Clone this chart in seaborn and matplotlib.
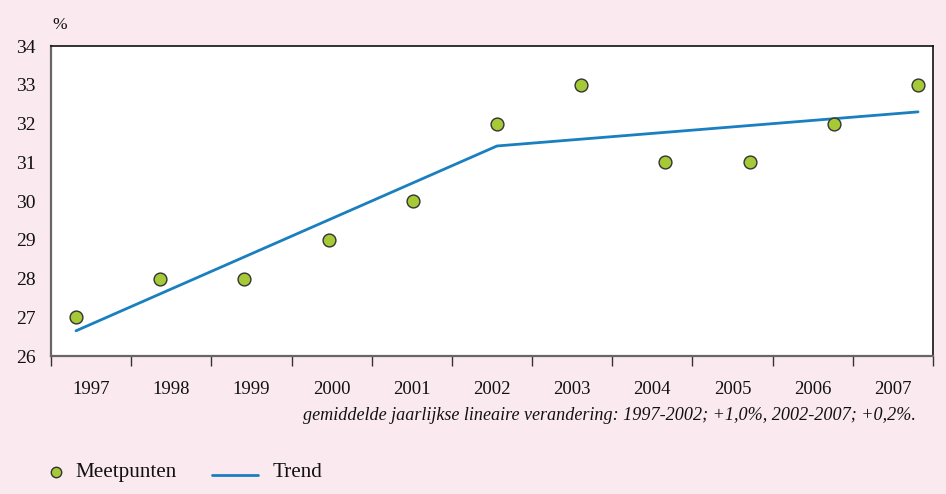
import matplotlib
matplotlib.use("Agg")
import matplotlib.pyplot as plt
import seaborn as sns
import numpy as np
import pandas as pd
from matplotlib.lines import Line2D

years = [1997, 1998, 1999, 2000, 2001, 2002, 2003, 2004, 2005, 2006, 2007]
meetpunten = [27, 28, 28, 29, 30, 32, 33, 31, 31, 32, 33]
trend_years = [1997, 2002, 2007]
trend_values = [26.65, 31.42, 32.30]
year_labels = [str(y) for y in years]
legend_labels = ["Meetpunten", "Trend"]
note = "gemiddelde jaarlijkse lineaire verandering: 1997-2002; +1,0%, 2002-2007; +0,2%."

sns.set_theme(style="white")
plt.rcParams['font.family'] = ['Liberation Serif', 'DejaVu Serif']

bg = "#fbe9f0"
green = "#a6c937"
blue = "#1a7fbf"
W, H = 946, 494

fig = plt.figure(figsize=(9.46, 4.94), dpi=100, facecolor=bg)
ax = fig.add_axes([51 / W, 1 - 356 / H, 882 / W, 310 / H])
ax.set_facecolor("white")

df_pts = pd.DataFrame({"jaar": years, "waarde": meetpunten})
df_tr = pd.DataFrame({"jaar": trend_years, "waarde": trend_values})

sns.lineplot(data=df_tr, x="jaar", y="waarde", ax=ax, color=blue, linewidth=2.0, zorder=2)
sns.scatterplot(data=df_pts, x="jaar", y="waarde", ax=ax, color=green, edgecolor="#333333",
                linewidth=1.0, s=85, zorder=3)

xlo, xhi = 1996.703, 2007.178
ax.set_xlim(xlo, xhi)
ax.set_ylim(26, 34)
edges = np.linspace(xlo, xhi, len(years) + 1)
centers = (edges[:-1] + edges[1:]) / 2
ax.set_xticks(edges)
ax.set_xticklabels([""] * len(edges))
ax.set_xticks(centers, minor=True)
ax.set_xticklabels(year_labels, minor=True)
ax.tick_params(axis="x", which="major", direction="out", length=7, width=1, color="#333333", bottom=True)
ax.tick_params(axis="x", which="minor", length=0, pad=18, labelsize=13.5, colors="#111111")
ax.set_yticks(range(26, 35))
ax.tick_params(axis="y", length=0, pad=11, labelsize=14, colors="#111111")
for lbl in ax.get_yticklabels():
    lbl.set_va("center_baseline")
ax.set_xlabel("")
ax.set_ylabel("")
if ax.get_legend():
    ax.get_legend().remove()

for side in ["top", "right"]:
    ax.spines[side].set_color("#111111")
    ax.spines[side].set_linewidth(1.2)
for side in ["left", "bottom"]:
    ax.spines[side].set_color("#666666")
    ax.spines[side].set_linewidth(1.6)

fig.text(52 / W, 1 - 25 / H, "%", fontsize=12.5, ha="left", va="center", color="#111111")
fig.text(916 / W, 1 - 415 / H, note, fontsize=13.1, style="italic", ha="right", va="center",
         color="#111111")

# legend
fig.add_artist(Line2D([56 / W], [1 - 472 / H], transform=fig.transFigure, marker="o", linestyle="none",
                      markerfacecolor=green, markeredgecolor="#333333", markersize=7.5, markeredgewidth=1.0))
fig.text(75 / W, 1 - 477 / H, legend_labels[0], fontsize=15.2, ha="left", va="baseline", color="#111111")
fig.add_artist(Line2D([212 / W, 258 / W], [1 - 475 / H, 1 - 475 / H], transform=fig.transFigure,
                      color=blue, linewidth=2.0))
fig.text(273 / W, 1 - 477 / H, legend_labels[1], fontsize=15.2, ha="left", va="baseline", color="#111111")

fig.savefig("out.png", dpi=100, facecolor=bg)
